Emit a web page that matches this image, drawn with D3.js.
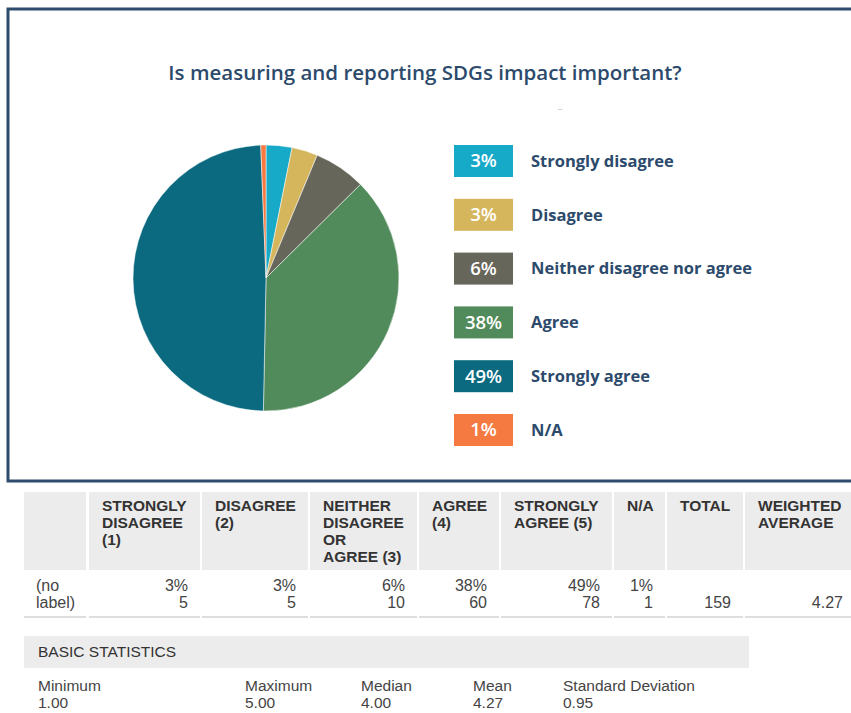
<!DOCTYPE html>
<html>
<head>
<meta charset="utf-8">
<script src="https://cdn.jsdelivr.net/npm/d3@7"></script>
<style>
  body { margin: 0; background: #fff; }
  svg { display: block; }
</style>
</head>
<body>
<div id="chart"></div>
<script>
// survey answers
const categories = ["Strongly disagree", "Disagree", "Neither disagree nor agree", "Agree", "Strongly agree", "N/A"];
const counts = [5, 5, 10, 60, 78, 1];
const percents = ["3%", "3%", "6%", "38%", "49%", "1%"];
const colors = ["#17aac8", "#d5b65c", "#67665b", "#528b5b", "#0b6a80", "#f57a41"];

// summary table
const headers = [
    ["STRONGLY", "DISAGREE", "(1)"],
    ["DISAGREE", "(2)"],
    ["NEITHER", "DISAGREE", "OR", "AGREE (3)"],
    ["AGREE", "(4)"],
    ["STRONGLY", "AGREE (5)"],
    ["N/A"],
    ["TOTAL"],
    ["WEIGHTED", "AVERAGE"]
];
const rowLabel = ["(no", "label)"];
const totalCount = "159";
const weightedAverage = "4.27";

// basic statistics
const statNames = ["Minimum", "Maximum", "Median", "Mean", "Standard Deviation"];
const statValues = ["1.00", "5.00", "4.00", "4.27", "0.95"];

const width = 851, height = 713;
const navy = "#2c4a6b";

const svg = d3.select("#chart").append("svg")
    .attr("width", width)
    .attr("height", height);

// frame around the chart
svg.append("path")
    .attr("d", "M860,9 L8,9 L8,481 L860,481")
    .attr("fill", "none")
    .attr("stroke", "#2f4c6d")
    .attr("stroke-width", 3);

svg.append("text")
    .attr("x", 425)
    .attr("y", 80)
    .attr("text-anchor", "middle")
    .attr("font-family", "'Open Sans', sans-serif")
    .attr("font-weight", 600)
    .attr("font-size", 20.5)
    .attr("fill", navy)
    .text("Is measuring and reporting SDGs impact important?");

svg.append("text")
    .attr("x", 560)
    .attr("y", 112)
    .attr("text-anchor", "middle")
    .attr("font-family", "'Open Sans', sans-serif")
    .attr("font-size", 10)
    .attr("fill", "#c8c8c8")
    .text("–");

// pie
const pie = d3.pie().sort(null).value(d => d)(counts);
const arc = d3.arc().innerRadius(0).outerRadius(133);

svg.append("g")
    .attr("transform", "translate(266,278)")
    .selectAll("path")
    .data(pie)
    .join("path")
    .attr("d", arc)
    .attr("fill", (d, i) => colors[i])
    .attr("stroke", "#ffffff")
    .attr("stroke-width", 0.5);

// legend
const ly = d3.scalePoint().domain(categories).range([161, 430]);

const legend = svg.append("g")
    .selectAll("g")
    .data(categories)
    .join("g")
    .attr("transform", d => "translate(454," + ly(d) + ")");

legend.append("rect")
    .attr("x", 0)
    .attr("y", -16)
    .attr("width", 59)
    .attr("height", 32)
    .attr("fill", (d, i) => colors[i]);

legend.append("text")
    .attr("x", 29.5)
    .attr("y", 0)
    .attr("dy", "0.35em")
    .attr("text-anchor", "middle")
    .attr("font-family", "'Open Sans', sans-serif")
    .attr("font-weight", 600)
    .attr("font-size", 18.5)
    .attr("fill", "#fff")
    .text((d, i) => percents[i]);

legend.append("text")
    .attr("x", 77)
    .attr("y", 0)
    .attr("dy", "0.35em")
    .attr("font-family", "'Open Sans', sans-serif")
    .attr("font-weight", 700)
    .attr("font-size", 16.5)
    .attr("fill", navy)
    .text(d => d);

// table
const edges = [24, 88, 201, 309, 418, 500, 613, 666, 744, 860];
const tableFont = "'Liberation Sans', Arial, sans-serif";

const head = svg.append("g");
head.selectAll("rect")
    .data(d3.range(edges.length - 1))
    .join("rect")
    .attr("x", i => edges[i] + (i > 0 ? 1 : 0))
    .attr("y", 492)
    .attr("width", i => edges[i + 1] - edges[i] - 2)
    .attr("height", 78)
    .attr("fill", "#ececec");

headers.forEach((lines, c) => {
    head.append("text")
        .attr("x", edges[c + 1] + 14)
        .attr("y", 511)
        .attr("font-family", tableFont)
        .attr("font-weight", "bold")
        .attr("font-size", 15.5)
        .attr("fill", "#333")
        .selectAll("tspan")
        .data(lines)
        .join("tspan")
        .attr("x", edges[c + 1] + 14)
        .attr("dy", (d, i) => i === 0 ? 0 : 17)
        .text(d => d);
});

// data row
const body = svg.append("g")
    .attr("font-family", tableFont)
    .attr("font-size", 16)
    .attr("fill", "#444");

body.append("text")
    .attr("y", 591)
    .selectAll("tspan")
    .data(rowLabel)
    .join("tspan")
    .attr("x", 36)
    .attr("dy", (d, i) => i === 0 ? 0 : 17)
    .text(d => d);

categories.forEach((c, i) => {
    const xr = edges[i + 2] - 13;
    body.append("text").attr("x", xr).attr("y", 591).attr("text-anchor", "end").text(percents[i]);
    body.append("text").attr("x", xr).attr("y", 608).attr("text-anchor", "end").text(counts[i]);
});
body.append("text").attr("x", edges[8] - 13).attr("y", 608).attr("text-anchor", "end").text(totalCount);
body.append("text").attr("x", 843).attr("y", 608).attr("text-anchor", "end").text(weightedAverage);

svg.append("g")
    .selectAll("rect")
    .data(d3.range(edges.length - 1))
    .join("rect")
    .attr("x", i => edges[i] + (i > 0 ? 1 : 0))
    .attr("y", 616)
    .attr("width", i => edges[i + 1] - edges[i] - 2)
    .attr("height", 2)
    .attr("fill", "#dedede");

// basic statistics
svg.append("rect")
    .attr("x", 24)
    .attr("y", 636)
    .attr("width", 725)
    .attr("height", 32)
    .attr("fill", "#ececec");

svg.append("text")
    .attr("x", 38)
    .attr("y", 657)
    .attr("font-family", tableFont)
    .attr("font-size", 15.5)
    .attr("fill", "#333")
    .text("BASIC STATISTICS");

const statX = [38, 245, 361, 473, 563];
const stats = svg.append("g")
    .attr("font-family", tableFont)
    .attr("font-size", 15.5)
    .attr("fill", "#444");

stats.selectAll("text.name")
    .data(statNames)
    .join("text")
    .attr("class", "name")
    .attr("x", (d, i) => statX[i])
    .attr("y", 691)
    .text(d => d);

stats.selectAll("text.value")
    .data(statValues)
    .join("text")
    .attr("class", "value")
    .attr("x", (d, i) => statX[i])
    .attr("y", 708)
    .text(d => d);
</script>
</body>
</html>
